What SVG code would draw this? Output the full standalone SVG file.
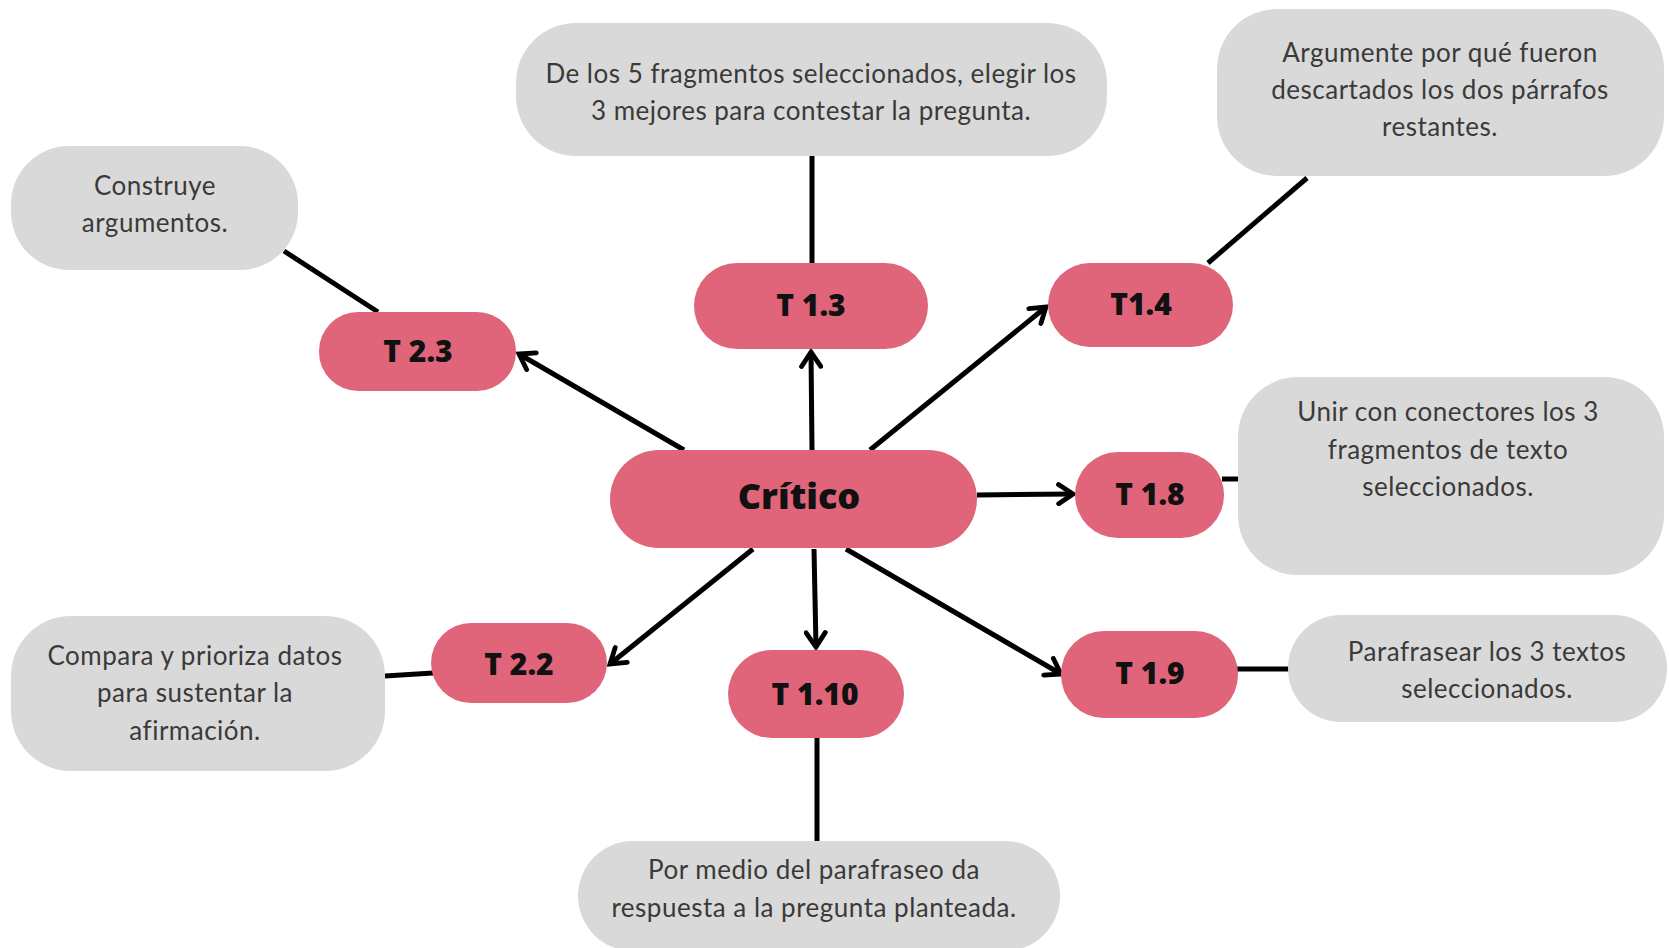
<svg xmlns="http://www.w3.org/2000/svg" width="1669" height="948" viewBox="0 0 1669 948">
<defs>
<style>
.g{fill:#d9d9d9}
.p{fill:#e0657a}
.gt{font-family:Lato,"Open Sans",sans-serif;font-size:26px;letter-spacing:0.5px;fill:#3a3a3a;text-anchor:middle}
.pt{font-family:"Open Sans","Noto Sans",sans-serif;font-weight:800;font-size:30px;fill:#111;text-anchor:middle}
.ln{stroke:#000;stroke-width:5;fill:none;stroke-linecap:butt}
</style>
<marker id="ah" viewBox="0 0 20 20" refX="17" refY="10" markerWidth="24" markerHeight="24" markerUnits="userSpaceOnUse" orient="auto">
<path d="M5,2 L17,10 L5,18" fill="none" stroke="#000" stroke-width="4" stroke-linecap="round" stroke-linejoin="miter"/>
</marker>
</defs>
<rect width="1669" height="948" fill="#fff"/>
<g id="connectors">
<line class="ln" x1="812" y1="156" x2="812" y2="263"/>
<line class="ln" x1="812" y1="450" x2="811" y2="352" marker-end="url(#ah)"/>
<line class="ln" x1="684" y1="450" x2="519" y2="354" marker-end="url(#ah)"/>
<line class="ln" x1="284" y1="251" x2="378" y2="312"/>
<line class="ln" x1="870" y1="450" x2="1046" y2="307" marker-end="url(#ah)"/>
<line class="ln" x1="1208" y1="263" x2="1307" y2="178"/>
<line class="ln" x1="977" y1="495" x2="1073" y2="494" marker-end="url(#ah)"/>
<line class="ln" x1="1222" y1="479" x2="1240" y2="479"/>
<line class="ln" x1="753" y1="549" x2="610" y2="664" marker-end="url(#ah)"/>
<line class="ln" x1="385" y1="676" x2="433" y2="673"/>
<line class="ln" x1="814" y1="549" x2="816" y2="647" marker-end="url(#ah)"/>
<line class="ln" x1="817" y1="738" x2="817" y2="842"/>
<line class="ln" x1="846" y1="549" x2="1061" y2="674" marker-end="url(#ah)"/>
<line class="ln" x1="1236" y1="669" x2="1290" y2="669"/>
</g>
<g id="n-delos">
<rect class="g" x="516" y="23" width="591" height="133" rx="60"/>
<text class="gt" x="811" y="83">De los 5 fragmentos seleccionados, elegir los</text>
<text class="gt" x="811" y="120">3 mejores para contestar la pregunta.</text>
</g>
<g id="n-argumente">
<rect class="g" x="1217" y="9" width="447" height="167" rx="60"/>
<text class="gt" x="1440" y="62">Argumente por qué fueron</text>
<text class="gt" x="1440" y="99">descartados los dos párrafos</text>
<text class="gt" x="1440" y="136">restantes.</text>
</g>
<g id="n-construye">
<rect class="g" x="11" y="146" width="287" height="124" rx="58"/>
<text class="gt" x="155" y="195">Construye</text>
<text class="gt" x="155" y="232">argumentos.</text>
</g>
<g id="n-t23">
<rect class="p" x="319" y="312" width="197" height="79" rx="39"/>
<text class="pt" x="418" y="362">T 2.3</text>
</g>
<g id="n-t13">
<rect class="p" x="694" y="263" width="234" height="86" rx="43"/>
<text class="pt" x="811" y="316">T 1.3</text>
</g>
<g id="n-t14">
<rect class="p" x="1048" y="263" width="185" height="84" rx="42"/>
<text class="pt" x="1141" y="315">T1.4</text>
</g>
<g id="n-unir">
<rect class="g" x="1238" y="377" width="426" height="198" rx="60"/>
<text class="gt" x="1448" y="421">Unir con conectores los 3</text>
<text class="gt" x="1448" y="459">fragmentos de texto</text>
<text class="gt" x="1448" y="496">seleccionados.</text>
</g>
<g id="n-critico">
<rect class="p" x="610" y="450" width="367" height="98" rx="49"/>
<text class="pt" x="799" y="509" style="font-size:36px">Crítico</text>
</g>
<g id="n-t18">
<rect class="p" x="1075" y="452" width="149" height="86" rx="43"/>
<text class="pt" x="1150" y="505">T 1.8</text>
</g>
<g id="n-compara">
<rect class="g" x="11" y="616" width="374" height="155" rx="60"/>
<text class="gt" x="195" y="665">Compara y prioriza datos</text>
<text class="gt" x="195" y="702">para sustentar la</text>
<text class="gt" x="195" y="740">afirmación.</text>
</g>
<g id="n-t22">
<rect class="p" x="431" y="623" width="176" height="80" rx="40"/>
<text class="pt" x="519" y="675">T 2.2</text>
</g>
<g id="n-t110">
<rect class="p" x="728" y="650" width="176" height="88" rx="44"/>
<text class="pt" x="815" y="705">T 1.10</text>
</g>
<g id="n-t19">
<rect class="p" x="1061" y="631" width="177" height="87" rx="43"/>
<text class="pt" x="1150" y="684">T 1.9</text>
</g>
<g id="n-parafrasear">
<rect class="g" x="1288" y="615" width="379" height="107" rx="53"/>
<text class="gt" x="1487" y="661">Parafrasear los 3 textos</text>
<text class="gt" x="1487" y="698">seleccionados.</text>
</g>
<g id="n-pormedio">
<rect class="g" x="578" y="841" width="482" height="110" rx="55"/>
<text class="gt" x="814" y="879">Por medio del parafraseo da</text>
<text class="gt" x="814" y="917">respuesta a la pregunta planteada.</text>
</g>
</svg>
